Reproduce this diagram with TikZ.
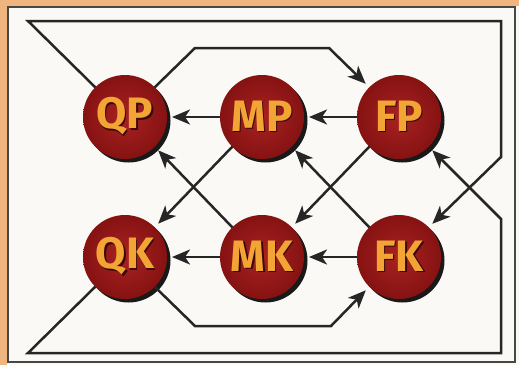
\documentclass[tikz,border=0pt]{standalone}
\usepackage{fontspec}
\newfontfamily\labfont{Fira Sans}
\usetikzlibrary{arrows.meta}
\definecolor{frame}{HTML}{F0B47E}
\definecolor{paper}{HTML}{FAF9F6}
\definecolor{ink}{HTML}{262626}
\definecolor{ball}{HTML}{861212}
\definecolor{ballhi}{HTML}{A82222}
\definecolor{gold}{HTML}{F2A535}
\newcommand\shtext[1]{\makebox[0pt][l]{\hspace{1.3pt}\raisebox{-1.3pt}{\color{ball!45!black}#1}}#1}
\tikzset{
  ballnode/.style={circle, minimum size=84pt, inner sep=0pt, outer sep=0pt,
    shading=radial, inner color=ballhi, outer color=ball,
    text=gold, font=\labfont\bfseries\fontsize{44}{44}\selectfont},
  ballshadow/.style={fill=black!90},
  conn/.style={draw=ink, line width=2.5pt, line join=miter,
    -{Stealth[length=18pt,width=15pt,inset=5pt]}, shorten >=5pt},
}
\begin{document}
\begin{tikzpicture}[x=1pt,y=-1pt]
\useasboundingbox (0,0) rectangle (519,365);
\fill[frame] (0,0) rectangle (519,365);
\fill[paper] (7,6) rectangle (519,365);
\draw[ink!85, line width=1.6pt] (8,7) rectangle (515,362);
% shadows and balls
\foreach \n/\x/\y in {QP/125/117, MP/262/117, FP/399/117, QK/125/257, MK/262/257, FK/399/257}{
  \fill[ballshadow] (\x+3.5,\y+3.5) circle (42);
  \node[ballnode] (\n) at (\x,\y) {\shtext{\n}};
}
% corner coordinates
\coordinate (c1) at (28,21);
\coordinate (c2) at (501,21);
\coordinate (c3) at (501,157);
\coordinate (d1) at (195,48);
\coordinate (d2) at (329,48);
\coordinate (e1) at (28,353);
\coordinate (e2) at (501,353);
\coordinate (e3) at (501,219);
\coordinate (f1) at (195,326);
\coordinate (f2) at (331,326);
% horizontal
\draw[conn] (MP) -- (QP);
\draw[conn] (FP) -- (MP);
\draw[conn] (MK) -- (QK);
\draw[conn] (FK) -- (MK);
% diagonals
\draw[conn] (MP.225) -- (QK.45);
\draw[conn] (MK.135) -- (QP.-45);
\draw[conn] (FP.225) -- (MK.45);
\draw[conn] (FK.135) -- (MP.-45);
% outer paths
\draw[conn] (QP.135) -- (c1) -- (c2) -- (c3) -- (FK.45);
\draw[conn] (QP.45) -- (d1) -- (d2) -- (FP.135);
\draw[conn] (QK.-135) -- (e1) -- (e2) -- (e3) -- (FP.-45);
\draw[conn] (QK.-45) -- (f1) -- (f2) -- (FK.-135);
\end{tikzpicture}
\end{document}
